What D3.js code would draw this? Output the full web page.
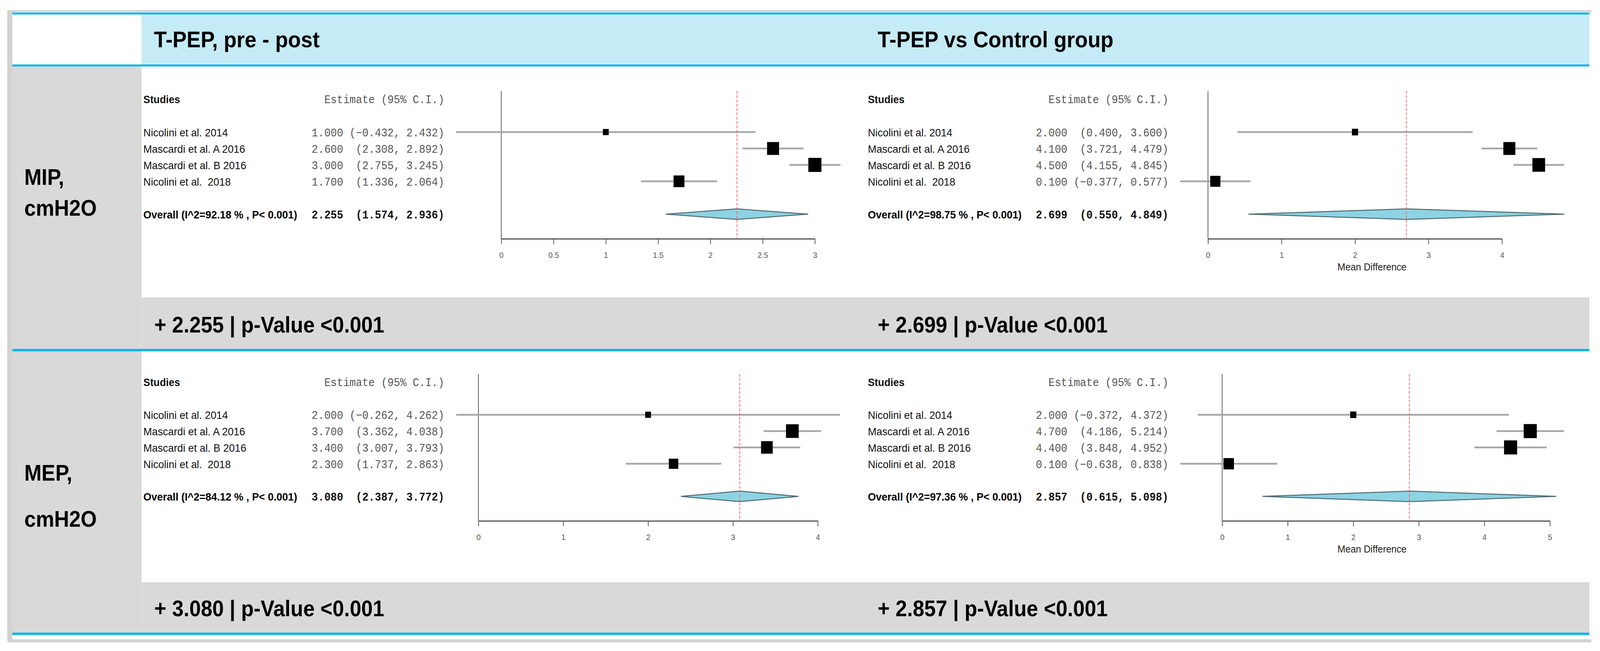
<!DOCTYPE html>
<html><head><meta charset="utf-8">
<script src="https://cdn.jsdelivr.net/npm/d3@7"></script>
<style>
html,body{margin:0;padding:0;background:#fff;overflow:hidden;width:100%;height:100%;}
svg{display:block;width:100vw;height:100vh;}
text{white-space:pre;}
</style></head><body>
<svg id="chart" viewBox="0 0 4408 1666" preserveAspectRatio="none"></svg>
<script>
// ---------------- DATA ----------------
const columnTitles = ["T-PEP, pre - post", "T-PEP vs Control group"];
const rowTitles = [["MIP,", "cmH2O"], ["MEP,", "cmH2O"]];
const studies = ["Nicolini et al. 2014", "Mascardi et al. A 2016", "Mascardi et al. B 2016", "Nicolini et al.  2018"];

const mipPrePostEst    = [1.000, 2.600, 3.000, 1.700];
const mipPrePostLow    = [-0.432, 2.308, 2.755, 1.336];
const mipPrePostHigh   = [2.432, 2.892, 3.245, 2.064];
const mipPrePostWeight = [14.0, 29.0, 31.6, 26.3];
const mipPrePostOverall = [2.255, 1.574, 2.936];
const mipPrePostI2 = "92.18";
const mipPrePostTicks = [0, 0.5, 1, 1.5, 2, 2.5, 3];

const mipVsCtrlEst    = [2.000, 4.100, 4.500, 0.100];
const mipVsCtrlLow    = [0.400, 3.721, 4.155, -0.377];
const mipVsCtrlHigh   = [3.600, 4.479, 4.845, 0.577];
const mipVsCtrlWeight = [14.9, 29.0, 30.7, 24.6];
const mipVsCtrlOverall = [2.699, 0.550, 4.849];
const mipVsCtrlI2 = "98.75";
const mipVsCtrlTicks = [0, 1, 2, 3, 4];

const mepPrePostEst    = [2.000, 3.700, 3.400, 2.300];
const mepPrePostLow    = [-0.262, 3.362, 3.007, 1.737];
const mepPrePostHigh   = [4.262, 4.038, 3.793, 2.863];
const mepPrePostWeight = [14.0, 30.7, 28.1, 22.8];
const mepPrePostOverall = [3.080, 2.387, 3.772];
const mepPrePostI2 = "84.12";
const mepPrePostTicks = [0, 1, 2, 3, 4];

const mepVsCtrlEst    = [2.000, 4.700, 4.400, 0.100];
const mepVsCtrlLow    = [-0.372, 4.186, 3.848, -0.638];
const mepVsCtrlHigh   = [4.372, 5.214, 4.952, 0.838];
const mepVsCtrlWeight = [14.9, 31.6, 31.6, 25.4];
const mepVsCtrlOverall = [2.857, 0.615, 5.098];
const mepVsCtrlI2 = "97.36";
const mepVsCtrlTicks = [0, 1, 2, 3, 4, 5];

const overallPLabel = "P< 0.001";
const summaryPValues = ["<0.001", "<0.001", "<0.001", "<0.001"];
const xAxisTitle = "Mean Difference";

// ---------------- LAYOUT ----------------
const svg = d3.select("#chart");
const SANS = "'Liberation Sans', Arial, sans-serif";
const MONO = "'Liberation Mono', 'Courier New', monospace";
const BLUE = "#00b5ee", LIGHTBLUE = "#c5ebf6", GREY = "#d9d9d9";
const L = 34, R = 4379, LEFTW = 390;

// frame
svg.append("rect").attr("x", 20).attr("y", 26).attr("width", 4364).attr("height", 1618).attr("fill", "#d2d2d2");
svg.append("rect").attr("x", L).attr("y", 31).attr("width", 4350).attr("height", 1605).attr("fill", "#fff");
// header band
svg.append("rect").attr("x", LEFTW).attr("y", 37).attr("width", R - LEFTW).attr("height", 128).attr("fill", LIGHTBLUE);
// left grey cells
svg.append("rect").attr("x", L).attr("y", 170).attr("width", LEFTW - L).attr("height", 723).attr("fill", GREY);
svg.append("rect").attr("x", L).attr("y", 899).attr("width", LEFTW - L).attr("height", 720).attr("fill", GREY);
// summary bands
svg.append("rect").attr("x", LEFTW).attr("y", 761).attr("width", R - LEFTW).attr("height", 132).attr("fill", GREY);
svg.append("rect").attr("x", LEFTW).attr("y", 1490).attr("width", R - LEFTW).attr("height", 129).attr("fill", GREY);
// blue rules
[[32, 5], [165, 5], [893, 6], [1619, 6]].forEach(([y, h]) =>
  svg.append("rect").attr("x", L).attr("y", y).attr("width", R - L).attr("height", h).attr("fill", BLUE));

// header titles
const colTitleX = [424, 2418];
columnTitles.forEach((t, i) =>
  svg.append("text").attr("x", colTitleX[i]).attr("y", 121).attr("font-family", SANS)
    .attr("font-weight", "bold").attr("font-size", 58).attr("fill", "#000").text(t));

// row titles
const rowTitleY = [[473, 552], [1230, 1348]];
rowTitles.forEach((lines, r) => lines.forEach((t, k) =>
  svg.append("text").attr("x", 67).attr("y", rowTitleY[r][k]).attr("font-family", SANS)
    .attr("font-weight", "bold").attr("font-size", 57).attr("fill", "#000").text(t)));

const fmt = d3.format(".3f");

const panels = [
  { est: mipPrePostEst, lo: mipPrePostLow, hi: mipPrePostHigh, w: mipPrePostWeight, ov: mipPrePostOverall, i2: mipPrePostI2, ticks: mipPrePostTicks, row: 0, col: 0, xr: [1381, 2245], xlab: false },
  { est: mipVsCtrlEst, lo: mipVsCtrlLow, hi: mipVsCtrlHigh, w: mipVsCtrlWeight, ov: mipVsCtrlOverall, i2: mipVsCtrlI2, ticks: mipVsCtrlTicks, row: 0, col: 1, xr: [3328, 4138], xlab: true },
  { est: mepPrePostEst, lo: mepPrePostLow, hi: mepPrePostHigh, w: mepPrePostWeight, ov: mepPrePostOverall, i2: mepPrePostI2, ticks: mepPrePostTicks, row: 1, col: 0, xr: [1318, 2253], xlab: false },
  { est: mepVsCtrlEst, lo: mepVsCtrlLow, hi: mepVsCtrlHigh, w: mepVsCtrlWeight, ov: mepVsCtrlOverall, i2: mepVsCtrlI2, ticks: mepVsCtrlTicks, row: 1, col: 1, xr: [3367, 4270], xlab: true }
];

const rowYRange = [[233, 611], [957, 1333]];
const nameX = [395, 2391], estRightX = [1224, 3219];
const summaryBaseline = [851, 1577];
const sizeScale = d3.scaleLinear().domain([0, 100]).range([0, 114]);

const ciString = (e, l, h) => `${fmt(e)} ${("(" + fmt(l)).padStart(7)}, ${fmt(h)})`;

panels.forEach((p, pi) => {
  const g = svg.append("g");
  const x = d3.scaleLinear().domain([0, d3.max(p.ticks)]).range(p.xr);
  const y = d3.scaleLinear().domain([-2.5, 6.5]).range(rowYRange[p.row]);
  const nx = nameX[p.col], ex = estRightX[p.col];

  // column headers
  g.append("text").attr("x", nx).attr("y", y(-2) + 10).attr("font-family", SANS).attr("font-weight", "bold")
    .attr("font-size", 28).attr("fill", "#111").text("Studies");
  g.append("text").attr("x", ex).attr("y", y(-2) + 10).attr("text-anchor", "end").attr("font-family", MONO)
    .attr("font-size", 29).attr("fill", "#555").text("Estimate (95% C.I.)");

  // study rows text
  studies.forEach((s, i) => {
    g.append("text").attr("x", nx).attr("y", y(i) + 11).attr("font-family", SANS).attr("font-size", 28.5)
      .attr("fill", "#111").text(s);
    g.append("text").attr("x", ex).attr("y", y(i) + 11).attr("text-anchor", "end").attr("font-family", MONO)
      .attr("font-size", 29).attr("fill", "#555").text(ciString(p.est[i], p.lo[i], p.hi[i]));
  });
  // overall text
  g.append("text").attr("x", nx).attr("y", y(5) + 11).attr("font-family", SANS).attr("font-weight", "bold")
    .attr("font-size", 28.5).attr("fill", "#000").text(`Overall (I^2=${p.i2} % , ${overallPLabel})`);
  g.append("text").attr("x", ex).attr("y", y(5) + 11).attr("text-anchor", "end").attr("font-family", MONO)
    .attr("font-weight", "bold").attr("font-size", 29).attr("fill", "#111").text(ciString(p.ov[0], p.ov[1], p.ov[2]));

  // vertical zero line
  g.append("line").attr("x1", x(0)).attr("x2", x(0)).attr("y1", y(-2.5)).attr("y2", y(6.5))
    .attr("stroke", "#555").attr("stroke-width", 2);

  // x axis
  const ax = g.append("g").attr("transform", `translate(0,${y(6.5)})`)
    .call(d3.axisBottom(x).tickValues(p.ticks).tickFormat(d3.format("~g")).tickSize(14).tickSizeOuter(0).tickPadding(20));
  ax.select(".domain").attr("stroke", "#555").attr("stroke-width", 3);
  ax.selectAll(".tick line").attr("stroke", "#555").attr("stroke-width", 2);
  ax.selectAll(".tick text").attr("font-family", SANS).attr("font-size", 21).attr("fill", "#555");

  if (p.xlab) {
    g.append("text").attr("x", 3780).attr("y", y(6.5) + 81).attr("text-anchor", "middle").attr("font-family", SANS)
      .attr("font-size", 26).attr("fill", "#222").text(xAxisTitle);
  }

  // CI lines
  g.selectAll("line.ci").data(p.est).join("line").attr("class", "ci")
    .attr("x1", (d, i) => x(p.lo[i])).attr("x2", (d, i) => x(p.hi[i]))
    .attr("y1", (d, i) => y(i)).attr("y2", (d, i) => y(i))
    .attr("stroke", "#a6a6a6").attr("stroke-width", 4.5);

  // squares
  g.selectAll("rect.box").data(p.est).join("rect").attr("class", "box")
    .attr("x", (d, i) => x(d) - sizeScale(p.w[i]) / 2).attr("y", (d, i) => y(i) - sizeScale(p.w[i]) / 2)
    .attr("width", (d, i) => sizeScale(p.w[i])).attr("height", (d, i) => sizeScale(p.w[i]))
    .attr("fill", "#000");

  // diamond
  const yc = y(5), hh = 13.5;
  g.append("polygon")
    .attr("points", [[x(p.ov[1]), yc], [x(p.ov[0]), yc - hh], [x(p.ov[2]), yc], [x(p.ov[0]), yc + hh]].map(q => q.join(",")).join(" "))
    .attr("fill", "#8dd3e3").attr("stroke", "#4f6a70").attr("stroke-width", 2.5);

  // red dashed overall line
  g.append("line").attr("x1", x(p.ov[0])).attr("x2", x(p.ov[0])).attr("y1", y(-2.5)).attr("y2", y(6.5))
    .attr("stroke", "#ff5c5c").attr("stroke-width", 2).attr("stroke-dasharray", "7,4");

  // summary band text
  svg.append("text").attr("x", colTitleX[p.col] + (p.col === 0 ? 1 : 0)).attr("y", summaryBaseline[p.row])
    .attr("font-family", SANS).attr("font-weight", "bold").attr("font-size", 57).attr("fill", "#000")
    .text(`+ ${fmt(p.ov[0])} | p-Value ${summaryPValues[pi]}`);
});
</script>
</body></html>
